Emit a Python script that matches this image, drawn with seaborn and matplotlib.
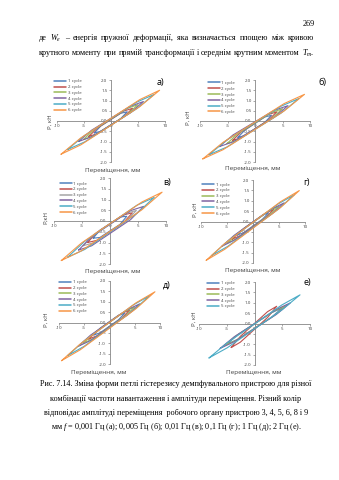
import numpy as np
import pandas as pd
import matplotlib
matplotlib.use("Agg")
import matplotlib.pyplot as plt
import seaborn as sns
from matplotlib.lines import Line2D

# ---------------- data ----------------
cycles6 = ["1 cycle", "2 cycle", "3 cycle", "4 cycle", "5 cycle", "6 cycle"]
cycles5 = cycles6[:5]
colors_std = ["#4F81BD", "#C0504D", "#9BBB59", "#8064A2", "#4BACC6", "#F79646"]
colors_v = ["#4F81BD", "#C0504D", "#A5A5A5", "#8064A2", "#4BACC6", "#F79646"]

x_ticks = [-10, -5, 0, 5, 10]
x_tick_labels = ["-10", "-5", "0", "5", "10"]
y_ticks = [-2.0, -1.5, -1.0, -0.5, 0.0, 0.5, 1.0, 1.5, 2.0]
y_tick_labels = ["-2.0", "-1.5", "-1.0", "-0.5", "0.0", "0.5", "1.0", "1.5", "2.0"]
x_label = "Переміщення, мм"
y_labels = ["P, кН", "P, кН", "P,кН", "P, кН", "P, кН", "P, кН"]
panel_letters = ["а)", "б)", "в)", "г)", "д)", "е)"]

# each loop: right tip (xr, yr), left tip (xl, yl), vertical loop thickness h
a_xr = [3.0, 4.0, 5.0, 6.0, 8.0, 9.0]
a_yr = [0.45, 0.62, 0.80, 0.95, 1.30, 1.50]
a_xl = [-3.1, -4.1, -5.1, -6.0, -8.1, -9.25]
a_yl = [-0.58, -0.75, -0.90, -1.00, -1.40, -1.62]
a_h = [0.26, 0.28, 0.30, 0.32, 0.32, 0.34]

b_xr = [3.0, 4.0, 5.0, 6.0, 8.0, 9.0]
b_yr = [0.28, 0.45, 0.60, 0.75, 1.10, 1.30]
b_xl = [-3.1, -4.1, -5.1, -6.5, -8.4, -9.5]
b_yl = [-0.80, -0.95, -1.10, -1.25, -1.65, -1.85]
b_h = [0.26, 0.28, 0.30, 0.34, 0.34, 0.36]

v_xr = [3.0, 4.0, 4.7, 6.0, 7.9, 9.3]
v_yr = [0.22, 0.38, 0.49, 0.68, 1.10, 1.34]
v_xl = [-3.0, -4.0, -4.8, -5.6, -7.6, -8.7]
v_yl = [-0.80, -1.00, -1.15, -1.35, -1.69, -1.84]
v_h = [0.34, 0.36, 0.38, 0.42, 0.38, 0.36]

g_xr = [3.0, 4.0, 5.0, 6.0, 8.0, 8.9]
g_yr = [0.42, 0.58, 0.75, 0.90, 1.30, 1.49]
g_xl = [-3.0, -4.0, -5.0, -6.0, -8.0, -9.0]
g_yl = [-0.65, -0.85, -1.05, -1.20, -1.65, -1.87]
g_h = [0.20, 0.22, 0.22, 0.24, 0.26, 0.28]

d_xr = [3.0, 4.0, 5.0, 6.0, 8.0, 9.0]
d_yr = [0.45, 0.60, 0.75, 0.90, 1.30, 1.48]
d_xl = [-3.1, -4.1, -5.2, -6.2, -8.3, -9.5]
d_yl = [-0.60, -0.80, -1.00, -1.15, -1.60, -1.84]
d_h = [0.22, 0.24, 0.24, 0.26, 0.26, 0.28]

e_xr = [5.0, 4.0, 5.8, 6.5, 8.2]
e_yr = [0.75, 0.83, 0.88, 1.00, 1.38]
e_xl = [-5.0, -4.2, -5.5, -6.2, -8.2]
e_yl = [-1.00, -1.16, -1.08, -1.20, -1.66]
e_h = [0.22, 0.28, 0.22, 0.24, 0.24]

# ---------------- helpers ----------------
W, H = 339, 480
KNEE = 0.2  # share of the stroke over which a loop end tapers


def loops_df(names, xr, yr, xl, yl, hh):
    rows = []
    for n, a, b, c, d, h in zip(names, xr, yr, xl, yl, hh):
        k = KNEE * (a - c)
        s = (b - d) / (a - c)
        pts = [(c, d),
               (c + k, d + s * k + h / 2),
               (a - k, b - s * k + h / 2),
               (a, b),
               (a - k, b - s * k - h / 2),
               (c + k, d + s * k - h / 2),
               (c, d)]
        for j, (px, py) in enumerate(pts):
            rows.append({"cycle": n, "order": j, "x": px, "y": py})
    return pd.DataFrame(rows)


panels = [
    (cycles6, colors_std, a_xr, a_yr, a_xl, a_yl, a_h),
    (cycles6, colors_std, b_xr, b_yr, b_xl, b_yl, b_h),
    (cycles6, colors_v, v_xr, v_yr, v_xl, v_yl, v_h),
    (cycles6, colors_std, g_xr, g_yr, g_xl, g_yl, g_h),
    (cycles6, colors_std, d_xr, d_yr, d_xl, d_yl, d_h),
    (cycles5, colors_std[:5], e_xr, e_yr, e_xl, e_yl, e_h),
]

# layout (pixels): axes rect (x0, x1, ytop, ybottom)
ax_rects = [(57, 165, 80, 162), (200, 310, 80, 162),
            (54, 166, 178, 264), (201, 305, 180, 263),
            (59, 160, 281, 364), (199, 310, 282, 365)]
legend_anchor = [(-0.03, 1.01), (0.07, 0.99), (0.05, 0.96), (0.01, 0.97), (0.0, 1.01), (0.07, 1.01)]
letter_pos = [(160, 82), (322, 82), (167, 183), (307, 183), (167, 285), (307, 283)]
xlabel_pos = [(113, 170), (253, 168), (113, 271), (253, 270), (99, 372), (254, 372)]
ylabel_pos = [(50, 122), (188, 118), (46, 217), (195, 210), (46, 320), (194, 319)]

sns.set_theme(style="white")
plt.rcParams["font.family"] = ["Open Sans", "DejaVu Sans"]
plt.rcParams["mathtext.fontset"] = "custom"
plt.rcParams["mathtext.rm"] = "Liberation Serif"
plt.rcParams["mathtext.it"] = "Liberation Serif:italic"

fig = plt.figure(figsize=(W / 100, H / 100), dpi=100)
fig.patch.set_facecolor("white")

axis_col = "#868686"
text_col = "#404040"
tick_fs = 3.2

for i, (names, cols, xr, yr, xl, yl, hh) in enumerate(panels):
    x0, x1, yt, yb = ax_rects[i]
    ax = fig.add_axes([x0 / W, 1 - yb / H, (x1 - x0) / W, (yb - yt) / H])
    ax.set_facecolor("none")
    df = loops_df(names, xr, yr, xl, yl, hh)
    sns.lineplot(data=df, x="x", y="y", hue="cycle", hue_order=names,
                 palette=cols, sort=False, estimator=None, units="cycle",
                 linewidth=0.8, legend=False, ax=ax, zorder=3)
    ax.set_xlim(-10, 10)
    ax.set_ylim(-2, 2)
    for s in ["top", "right"]:
        ax.spines[s].set_visible(False)
    ax.spines["left"].set_position(("data", 0))
    ax.spines["bottom"].set_position(("data", 0))
    for s in ["left", "bottom"]:
        ax.spines[s].set_color(axis_col)
        ax.spines[s].set_linewidth(0.6)
        ax.spines[s].set_zorder(1)
    ax.set_xticks(x_ticks)
    ax.set_xticklabels(x_tick_labels)
    ax.set_yticks(y_ticks)
    ax.set_yticklabels(y_tick_labels)
    ax.tick_params(axis="both", direction="out", length=1.5, width=0.5,
                   color=axis_col, labelsize=tick_fs, labelcolor=text_col, pad=1.0)
    ax.tick_params(axis="x", bottom=True)
    ax.tick_params(axis="y", left=True)
    ax.set_xlabel("")
    ax.set_ylabel("")
    ax.grid(False)
    handles = [Line2D([0], [0], color=c, lw=1.1) for c in cols]
    leg = ax.legend(handles, names, loc="upper left", bbox_to_anchor=legend_anchor[i],
                    frameon=False, fontsize=tick_fs, handlelength=2.8,
                    handletextpad=0.3, labelspacing=0.38, borderpad=0.0,
                    borderaxespad=0.0)
    for t in leg.get_texts():
        t.set_color(text_col)

    lx, ly = letter_pos[i]
    fig.text(lx / W, 1 - ly / H, panel_letters[i], fontsize=6.5, color="black",
             ha="center", va="center")
    xx, xy = xlabel_pos[i]
    fig.text(xx / W, 1 - xy / H, x_label, fontsize=4.6, color=text_col,
             ha="center", va="center")
    yx, yy = ylabel_pos[i]
    fig.text(yx / W, 1 - yy / H, y_labels[i], fontsize=4.4, color=text_col,
             ha="center", va="center", rotation=90)

# ---------------- page text ----------------
serif = ["Liberation Serif", "DejaVu Serif"]
body_fs = 5.9
fig.text(315 / W, 1 - 24 / H, "269", fontsize=body_fs, family=serif,
         ha="right", va="center", color="black")

renderer = fig.canvas.get_renderer()


def justified(words, y_px, x0_px, x1_px, fs):
    texts = [fig.text(0, 1 - y_px / H, w, fontsize=fs, family=serif,
                      ha="left", va="center", color="black") for w in words]
    widths = [t.get_window_extent(renderer).width for t in texts]
    gap = (x1_px - x0_px - sum(widths)) / (len(words) - 1)
    x = x0_px
    for t, w in zip(texts, widths):
        t.set_x(x / W)
        x += w + gap


line1 = "де $W_e$ – енергія пружної деформації, яка визначається площею між кривою"
line2 = "крутного моменту при прямій трансформації і середнім крутним моментом $T_m$."
justified(line1.split(" "), 38, 39, 314, body_fs)
justified(line2.split(" "), 53, 39, 314, body_fs)

caption = [
    "Рис. 7.14. Зміна форми петлі гістерезису демпфувального пристрою для різної",
    "комбінації частоти навантаження і амплітуди переміщення. Різний колір",
    "відповідає амплітуді переміщення  робочого органу пристрою 3, 4, 5, 6, 8 і 9",
    "мм $f$ = 0,001 Гц (а); 0,005 Гц (б); 0,01 Гц (в); 0,1 Гц (г); 1 Гц (д); 2 Гц (е).",
]
cap_y = [384, 399, 413, 427]
for s, y in zip(caption, cap_y):
    fig.text(176 / W, 1 - y / H, s, fontsize=body_fs, family=serif,
             ha="center", va="center", color="black")

fig.savefig("out.png", dpi=100, facecolor="white")
